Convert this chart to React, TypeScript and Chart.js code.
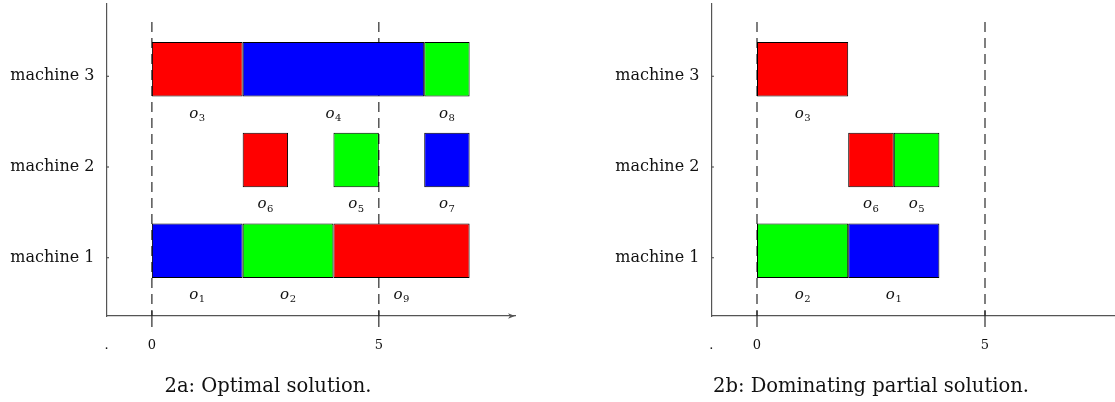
import React, { useEffect, useRef } from "react";
import { Chart, registerables } from "chart.js";

Chart.register(...registerables);

// ---- shared axis data ----
const MACHINE_TICKS = [1, 2, 3];
const MACHINE_LABELS = ["machine 1", "machine 2", "machine 3"];
const X_TICKS = [-1, 0, 5];
const X_TICK_LABELS = [".", "0", "5"];
const X_MIN = -1;
const X_MAX = 8;
const Y_MIN = 0.28;
const Y_MAX = 3.72;
const MARKER_VALUES = [0, 5];

// ---- 2a: optimal solution ----
const A_OPS = ["3", "4", "8", "6", "5", "7", "1", "2", "9"];
const A_MACHINE = [3, 3, 3, 2, 2, 2, 1, 1, 1];
const A_START = [0, 2, 6, 2, 4, 6, 0, 2, 4];
const A_END = [2, 6, 7, 3, 5, 7, 2, 4, 7];
const A_CAPTION = "2a: Optimal solution.";

// ---- 2b: dominating partial solution ----
const B_OPS = ["3", "6", "5", "2", "1"];
const B_MACHINE = [3, 2, 2, 1, 1];
const B_START = [0, 2, 3, 0, 2];
const B_END = [2, 3, 4, 2, 4];
const B_CAPTION = "2b: Dominating partial solution.";

// colour of each operation
const OP_COLORS: Record<string, string> = {
  "1": "#0000ff",
  "2": "#00ff00",
  "3": "#ff0000",
  "4": "#0000ff",
  "5": "#00ff00",
  "6": "#ff0000",
  "7": "#0000ff",
  "8": "#00ff00",
  "9": "#ff0000",
};

const FONT = "'DejaVu Serif', serif";
const AXIS_COLOR = "#555555";
const TEXT_COLOR = "#111111";
const LABEL_OFFSET = 7;

function makeDecor(ops: string[], caption: string, captionX: number) {
  return {
    id: "ganttDecor",
    beforeDatasetsDraw(chart: any) {
      const { ctx, chartArea, scales } = chart;
      const x = scales.x;
      ctx.save();
      ctx.strokeStyle = "#2a2a2a";
      ctx.lineWidth = 1.2;
      for (const v of MARKER_VALUES) {
        const px = x.getPixelForValue(v);
        // dashed marker line
        ctx.setLineDash([10, 6]);
        ctx.beginPath();
        ctx.moveTo(px, chartArea.top + 18);
        ctx.lineTo(px, chartArea.bottom);
        ctx.stroke();
        // tick across the time axis
        ctx.setLineDash([]);
        ctx.beginPath();
        ctx.moveTo(px, chartArea.bottom - 5);
        ctx.lineTo(px, chartArea.bottom + 11);
        ctx.stroke();
      }
      ctx.restore();
    },
    afterDatasetsDraw(chart: any) {
      const { ctx } = chart;
      const meta = chart.getDatasetMeta(0);
      ctx.save();
      ctx.fillStyle = TEXT_COLOR;
      ctx.textAlign = "left";
      ctx.textBaseline = "alphabetic";
      meta.data.forEach((el: any, i: number) => {
        const p = el.getProps(["x", "base", "y", "height"], true);
        const cx = (p.x + p.base) / 2;
        const cy = p.y + p.height / 2 + 17;
        ctx.font = `italic 15px ${FONT}`;
        const wO = ctx.measureText("o").width;
        ctx.font = `10px ${FONT}`;
        const wD = ctx.measureText(ops[i]).width;
        const left = cx - (wO + wD + 0.5) / 2;
        ctx.font = `italic 15px ${FONT}`;
        ctx.fillText("o", left, cy + 4);
        ctx.font = `10px ${FONT}`;
        ctx.fillText(ops[i], left + wO + 0.5, cy + 7.5);
      });
      ctx.restore();
    },
    afterDraw(chart: any) {
      const { ctx, chartArea, scales } = chart;
      const tip = chartArea.right;
      const y = chartArea.bottom;
      ctx.save();
      // arrow head on the time axis
      ctx.fillStyle = AXIS_COLOR;
      ctx.beginPath();
      ctx.moveTo(tip, y);
      ctx.lineTo(tip - 7, y - 2.8);
      ctx.lineTo(tip - 5, y);
      ctx.lineTo(tip - 7, y + 2.8);
      ctx.closePath();
      ctx.fill();
      // small machine ticks on the vertical axis
      ctx.strokeStyle = AXIS_COLOR;
      ctx.lineWidth = 1.2;
      for (const v of MACHINE_TICKS) {
        const py = scales.y.getPixelForValue(v) + LABEL_OFFSET;
        ctx.beginPath();
        ctx.moveTo(chartArea.left, py);
        ctx.lineTo(chartArea.left + 2.5, py);
        ctx.stroke();
      }
      // caption
      ctx.fillStyle = TEXT_COLOR;
      ctx.font = `19.5px ${FONT}`;
      ctx.textAlign = "center";
      ctx.textBaseline = "middle";
      ctx.fillText(caption, captionX, 387);
      ctx.restore();
    },
  };
}

type GanttProps = {
  ops: string[];
  machine: number[];
  start: number[];
  end: number[];
  caption: string;
  left: number;
  width: number;
  yAxisPx: number;
  padRight: number;
  captionX: number;
};

function Gantt({ ops, machine, start, end, caption, left, width, yAxisPx, padRight, captionX }: GanttProps) {
  const ref = useRef<HTMLCanvasElement>(null);
  useEffect(() => {
    const chart = new Chart(ref.current as HTMLCanvasElement, {
      type: "bar",
      data: {
        datasets: [
          {
            data: ops.map((_, i) => ({ x: [start[i], end[i]], y: machine[i] })) as any,
            backgroundColor: ops.map((o) => OP_COLORS[o]),
            borderColor: "#000000",
            borderWidth: 1,
            borderSkipped: false,
            barPercentage: 0.6,
            categoryPercentage: 1,
          } as any,
        ],
      },
      options: {
        indexAxis: "y",
        responsive: false,
        maintainAspectRatio: false,
        animation: false,
        events: [],
        layout: { padding: { top: 4, right: padRight, left: 0, bottom: 0 } },
        plugins: {
          legend: { display: false },
          tooltip: { enabled: false },
          title: { display: false },
        },
        scales: {
          x: {
            type: "linear",
            min: X_MIN,
            max: X_MAX,
            offset: false,
            afterBuildTicks: (s: any) => {
              s.ticks = X_TICKS.map((v) => ({ value: v }));
            },
            afterFit: (s: any) => {
              s.height = 86;
              s.paddingLeft = 0;
              s.paddingRight = 0;
            },
            grid: { display: false, drawTicks: false, offset: false },
            border: { display: true, color: AXIS_COLOR, width: 1.2 },
            ticks: {
              autoSkip: false,
              maxRotation: 0,
              padding: 22,
              color: TEXT_COLOR,
              font: { family: FONT, size: 13 },
              callback: (v: any) => X_TICK_LABELS[X_TICKS.indexOf(Number(v))] ?? "",
            },
          },
          y: {
            type: "linear",
            min: Y_MIN,
            max: Y_MAX,
            offset: false,
            afterBuildTicks: (s: any) => {
              s.ticks = MACHINE_TICKS.map((v) => ({ value: v }));
            },
            afterFit: (s: any) => {
              s.width = yAxisPx;
              s.paddingTop = 0;
              s.paddingBottom = 0;
            },
            grid: { display: false, drawTicks: false, offset: false },
            border: { display: true, color: AXIS_COLOR, width: 1.2 },
            ticks: {
              autoSkip: false,
              padding: 12,
              labelOffset: LABEL_OFFSET,
              color: TEXT_COLOR,
              font: { family: FONT, size: 16 },
              callback: (v: any) => MACHINE_LABELS[MACHINE_TICKS.indexOf(Number(v))] ?? "",
            },
          },
        } as any,
      },
      plugins: [makeDecor(ops, caption, captionX) as any],
    });
    return () => chart.destroy();
  }, []);
  return (
    <canvas
      ref={ref}
      width={width}
      height={402}
      style={{ position: "absolute", left, top: 0, width, height: 402 }}
    />
  );
}

export default function App() {
  return (
    <div
      style={{
        position: "fixed",
        left: 0,
        top: 0,
        width: 1115,
        height: 402,
        overflow: "hidden",
        background: "#ffffff",
      }}
    >
      <Gantt
        ops={A_OPS}
        machine={A_MACHINE}
        start={A_START}
        end={A_END}
        caption={A_CAPTION}
        left={0}
        width={536}
        yAxisPx={106.5}
        padRight={21}
        captionX={268}
      />
      <Gantt
        ops={B_OPS}
        machine={B_MACHINE}
        start={B_START}
        end={B_END}
        caption={B_CAPTION}
        left={600}
        width={534}
        yAxisPx={111.4}
        padRight={12.2}
        captionX={271}
      />
    </div>
  );
}
